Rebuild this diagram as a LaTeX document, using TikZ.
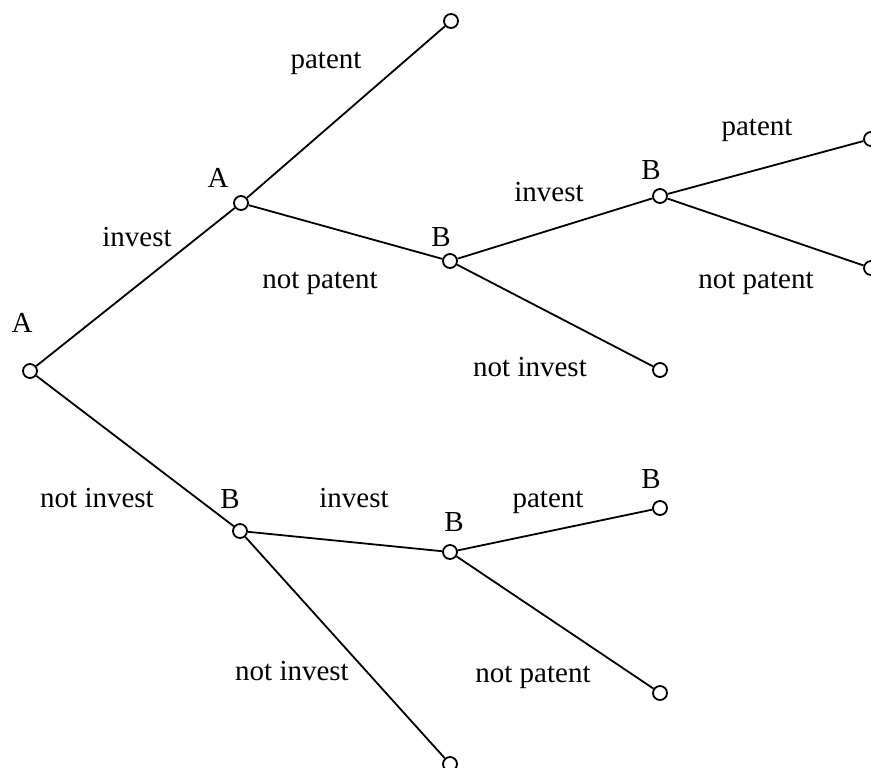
\documentclass[tikz,border=0pt]{standalone}
\usepackage{fontspec}
\setmainfont{Liberation Serif}
\usetikzlibrary{positioning}

\begin{document}
\begin{tikzpicture}[x=0.5pt, y=-0.5pt, line width=0.9pt,
	noeud/.style={circle, draw, fill=white, inner sep=0pt, minimum size=7pt},
	coup/.style={font=\fontsize{14.5}{17}\selectfont, anchor=base, inner sep=0pt},
	joueur/.style={font=\fontsize{14.5}{17}\selectfont, inner sep=0pt}]
	\useasboundingbox (0,0) rectangle (871,767);
	% noeuds de decision
	\node[noeud] (a0) at (30,371) {};
	\node[noeud] (a1) at (241,203) {};
	\node[noeud] (b1) at (450,261) {};
	\node[noeud] (b2) at (660,196) {};
	\node[noeud] (b3) at (240,531) {};
	\node[noeud] (b4) at (450,552) {};
	% feuilles
	\node[noeud] (f1) at (451,21) {};
	\node[noeud] (f2) at (871,139) {};
	\node[noeud] (f3) at (871,268) {};
	\node[noeud] (f4) at (660,370) {};
	\node[noeud] (f5) at (660,508) {};
	\node[noeud] (f6) at (660,693) {};
	\node[noeud] (f7) at (450,764) {};
	% branches
	\draw (a0) -- (a1);
	\draw (a0) -- (b3);
	\draw (a1) -- (f1);
	\draw (a1) -- (b1);
	\draw (b1) -- (b2);
	\draw (b1) -- (f4);
	\draw (b2) -- (f2);
	\draw (b2) -- (f3);
	\draw (b3) -- (b4);
	\draw (b3) -- (f7);
	\draw (b4) -- (f5);
	\draw (b4) -- (f6);
	% joueurs
	\node[joueur] (ja0) at (22,323) {A};
	\node[joueur] (ja1) at (218,178) {A};
	\node[joueur] (jb1) at (441,237) {B};
	\node[joueur] (jb2) at (651,170) {B};
	\node[joueur] (jb3) at (230,499) {B};
	\node[joueur] (jb4) at (454,522) {B};
	\node[joueur] (jf5) at (651,479) {B};
	% actions
	\node[coup] (c1) at (137,246) {invest};
	\node[coup] (c2) at (97,507) {not invest};
	\node[coup] (c3) at (326,68) {patent};
	\node[coup] (c4) at (320,288) {not patent};
	\node[coup] (c5) at (549,201) {invest};
	\node[coup] (c6) at (530,376) {not invest};
	\node[coup] (c7) at (757,135) {patent};
	\node[coup] (c8) at (756,288) {not patent};
	\node[coup] (c9) at (354,507) {invest};
	\node[coup] (c10) at (292,680) {not invest};
	\node[coup] (c11) at (548,507) {patent};
	\node[coup] (c12) at (533,682) {not patent};
\end{tikzpicture}
\end{document}
